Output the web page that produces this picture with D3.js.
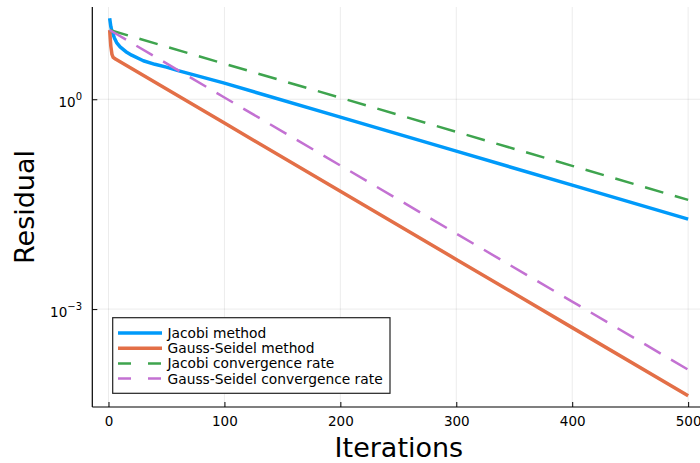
<!DOCTYPE html>
<html lang="en">
<head>
<meta charset="utf-8">
<title>Jacobi vs Gauss-Seidel residual</title>
<script src="https://cdn.jsdelivr.net/npm/d3@7"></script>
<style>
    body { margin: 0; background: #fff; }
    svg { display: block; font-family: 'DejaVu Sans', sans-serif; }
    .grid line { stroke: #000; stroke-opacity: 0.1; stroke-width: 0.8; }
</style>
</head>
<body>
<svg></svg>
<script>
// values (residual per iteration, log scale)
var jacobiIter = [1, 2, 3, 5, 7, 10, 15, 20, 30, 40, 50, 60, 80, 100, 200, 300, 400, 500];
var jacobiRes = [14.35, 10.96, 9.33, 7.59, 6.46, 5.62, 4.79, 4.27, 3.55, 3.16, 2.88, 2.57, 2.09, 1.70, 0.555, 0.181, 0.0592, 0.0193];

var gsIter = [1, 2, 3, 4, 6, 100, 200, 300, 400, 500];
var gsRes = [9.77, 5.75, 4.37, 3.98, 3.76, 0.456, 0.0483, 0.00513, 0.000543, 0.0000575];

var rateIter = [1, 100, 200, 300, 400, 500];
var jacobiRate = [9.77, 3.22, 1.05, 0.342, 0.1117, 0.0364];
var gsRate = [9.77, 1.06, 0.113, 0.0120, 0.00128, 0.000136];

var seriesNames = ["Jacobi method", "Gauss-Seidel method", "Jacobi convergence rate", "Gauss-Seidel convergence rate"];
var xTicks = [0, 100, 200, 300, 400, 500];
var yTickExp = [0, -3];

var width = 700, height = 463;
// plot frame (note: "top" is a reserved window property, so prefix these)
var pLeft = 92.3, pRight = 705.5, pTop = 7, pBottom = 407;

var svg = d3.select("svg").attr("width", width).attr("height", height);

var x = d3.scaleLinear().domain([-13.97, 514.97]).range([pLeft, pRight]);
var y = d3.scaleLog().domain([Math.pow(10, -4.40), Math.pow(10, 1.319)]).range([pBottom, pTop]);

// grid
var grid = svg.append("g").attr("class", "grid");
grid.selectAll(".vx").data(xTicks).enter().append("line")
    .attr("x1", function(d) { return x(d); }).attr("x2", function(d) { return x(d); })
    .attr("y1", pTop).attr("y2", pBottom);
grid.selectAll(".hy").data(yTickExp).enter().append("line")
    .attr("x1", pLeft).attr("x2", pRight)
    .attr("y1", function(d) { return y(Math.pow(10, d)); })
    .attr("y2", function(d) { return y(Math.pow(10, d)); });

var series = [
    { it: jacobiIter, v: jacobiRes, color: "#009AFA", w: 3.5, dash: null },
    { it: gsIter, v: gsRes, color: "#E36F47", w: 3.5, dash: null },
    { it: rateIter, v: jacobiRate, color: "#3EA44E", w: 2.5, dash: "19,12" },
    { it: rateIter, v: gsRate, color: "#C371D2", w: 2.5, dash: "19,12" }
];

var line = d3.line()
    .x(function(d) { return x(d[0]); })
    .y(function(d) { return y(d[1]); });

// draw in series order, like the reference
series.forEach(function(s) {
    svg.append("path")
        .datum(d3.zip(s.it, s.v))
        .attr("d", line)
        .attr("fill", "none")
        .attr("stroke", s.color)
        .attr("stroke-width", s.w)
        .attr("stroke-dasharray", s.dash)
        .attr("stroke-linejoin", "round");
});

// axes (ticks pointing inward, no top/right frame)
var xAxis = svg.append("g").attr("transform", "translate(0," + pBottom + ")")
    .call(d3.axisBottom(x).tickValues(xTicks).tickSize(-5).tickPadding(9).tickSizeOuter(0));
xAxis.select(".domain").attr("d", "M" + pLeft + ",0H" + pRight).attr("stroke-width", 1.2);
xAxis.selectAll("text").attr("font-size", 13.5).attr("font-family", "DejaVu Sans").attr("fill", "#000");

var yAxis = svg.append("g").attr("transform", "translate(" + pLeft + ",0)")
    .call(d3.axisLeft(y).tickValues(yTickExp.map(function(e) { return Math.pow(10, e); }))
        .tickSize(-5).tickFormat("").tickSizeOuter(0));
yAxis.select(".domain").attr("d", "M0," + pTop + "V" + pBottom).attr("stroke-width", 1.2);

var yLab = svg.append("g").selectAll("text").data(yTickExp).enter().append("text")
    .attr("x", 82).attr("y", function(d) { return y(Math.pow(10, d)) + 8; })
    .attr("text-anchor", "end").attr("font-size", 13.5);
yLab.append("tspan").text("10");
yLab.append("tspan").attr("dy", -7.5).attr("font-size", 10)
    .text(function(d) { return d < 0 ? "\u2212" + (-d) : "" + d; });

svg.append("text").attr("x", (pLeft + pRight) / 2).attr("y", 457)
    .attr("text-anchor", "middle").attr("font-size", 27).text("Iterations");
svg.append("text").attr("transform", "translate(34," + (pTop + pBottom) / 2 + ") rotate(-90)")
    .attr("text-anchor", "middle").attr("font-size", 27).text("Residual");

// legend
var lg = svg.append("g");
lg.append("rect").attr("x", 112.7).attr("y", 317.7).attr("width", 277.3).attr("height", 75.6)
    .attr("fill", "#fff").attr("stroke", "#222").attr("stroke-width", 1.2);
var rows = lg.selectAll(".row").data(series).enter().append("g")
    .attr("transform", function(d, i) { return "translate(0," + (333 + i * 15.2) + ")"; });
rows.append("line").attr("x1", 118).attr("x2", 162)
    .attr("stroke", function(d) { return d.color; })
    .attr("stroke-width", function(d) { return d.w; })
    .attr("stroke-dasharray", function(d) { return d.dash ? "13,17" : null; });
rows.append("text").attr("x", 167.5).attr("y", 5).attr("font-size", 13.8)
    .text(function(d, i) { return seriesNames[i]; });
</script>
</body>
</html>
